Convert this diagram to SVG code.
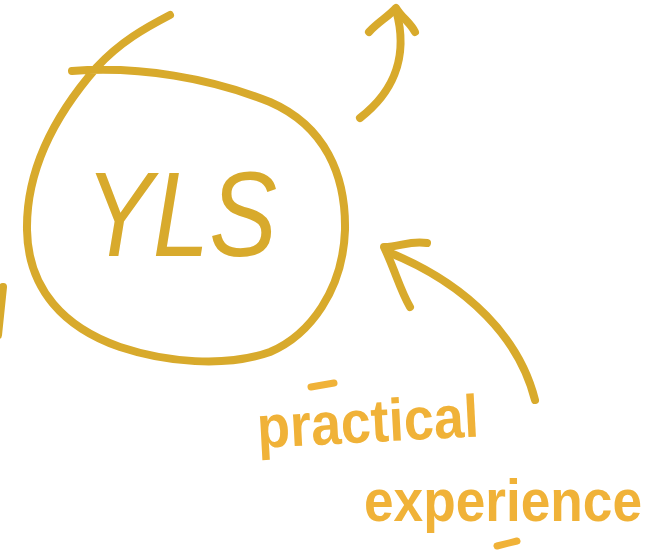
<svg xmlns="http://www.w3.org/2000/svg" width="658" height="555" viewBox="0 0 658 555">
  <style>
    .ink { fill: none; stroke: #D8AA2C; stroke-width: 8; stroke-linecap: round; stroke-linejoin: round; }
    .note { fill: #F0B238; font-family: "Liberation Sans", Arial, sans-serif; font-weight: bold; }
    .dash { fill: none; stroke: #F0B238; stroke-width: 7; stroke-linecap: round; }
  </style>
  <rect width="658" height="555" fill="#FFFFFF"/>
  <g id="yls">
    <path class="ink" d="M72,71 C140,66 210,78 270,102 C325,126 346,175 345,230 C343,290 310,335 270,352 C225,368 165,362 120,347 C65,328 28,290 27,230 C26,170 55,115 97,67 C120,42 145,28 170,15"/>
    <text x="85" y="256" font-family="Liberation Sans, Arial, sans-serif" font-size="120" font-style="italic" fill="#D8AA2C" textLength="192" lengthAdjust="spacingAndGlyphs">YLS</text>
  </g>
  <g id="practical-experience">
    <line class="dash" x1="311" y1="387" x2="334" y2="383"/>
    <text class="note" x="258" y="448" font-size="60" textLength="222" lengthAdjust="spacingAndGlyphs" transform="rotate(-3 258 448)">practical</text>
    <text class="note" x="364" y="521" font-size="60" textLength="278" lengthAdjust="spacingAndGlyphs">experience</text>
    <line class="dash" x1="497" y1="546" x2="517" y2="541"/>
  </g>
  <g id="connectors">
    <path class="ink" d="M360,118 C390,95 410,60 396,10"/>
    <path class="ink" d="M369,32 C378,22 388,17 396,8 C402,18 410,22 415,32"/>
    <path class="ink" d="M535,400 C520,340 470,285 388,252"/>
    <path class="ink" d="M427,243 C410,240 400,247 384,247 C395,270 400,290 410,307"/>
    <path class="ink" d="M3,287 L-2,335"/>
  </g>
</svg>
